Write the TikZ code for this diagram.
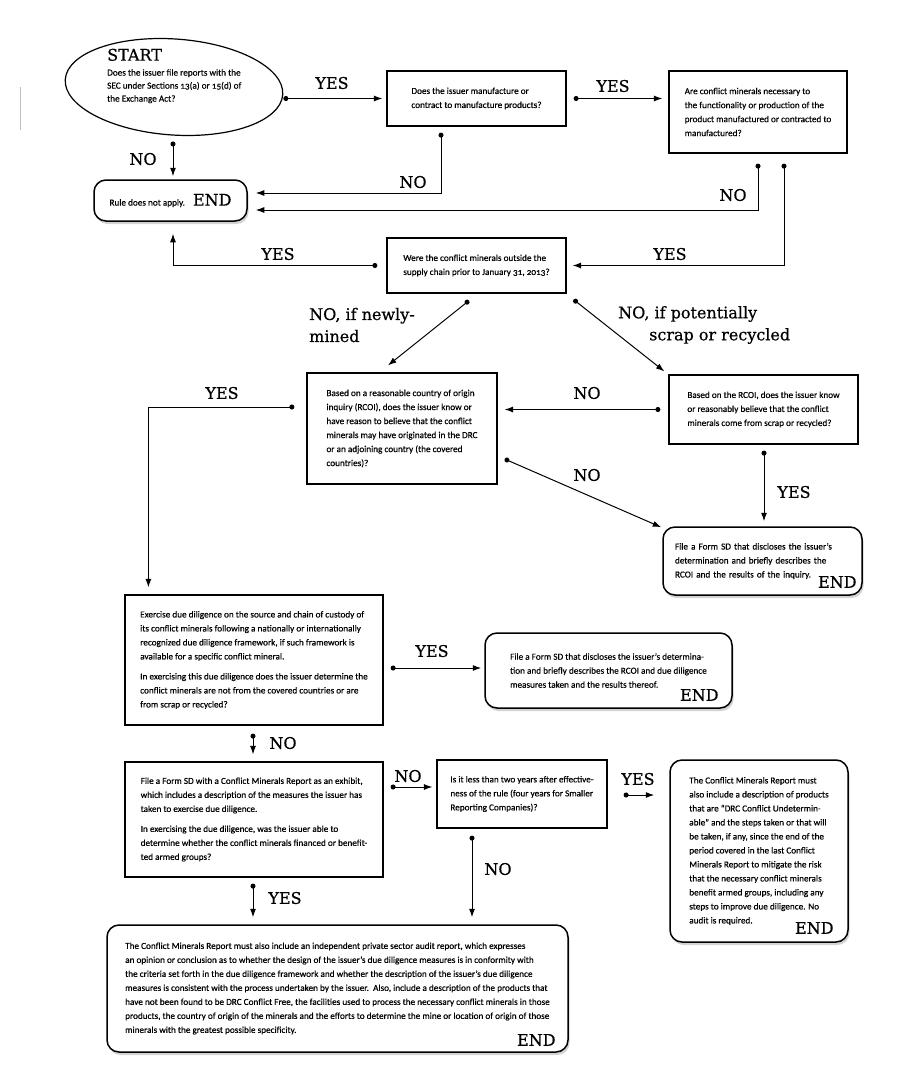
\documentclass[tikz,border=0pt]{standalone}
\usepackage{fontspec}
\setmainfont{Carlito}[Numbers=OldStyle, FakeBold=0.4]
\newfontfamily\slabfont{DejaVu Serif}[FakeBold=0.6]
\usetikzlibrary{calc,shapes.geometric,arrows.meta,shadows}

\newcommand{\bodytext}{\fontsize{9.2}{14}\selectfont}
\newcommand{\slab}{\slabfont\fontsize{16}{22}\selectfont}

\tikzset{
  qbox/.style={draw, line width=1.2pt, align=left, inner sep=0pt, font=\bodytext},
  endbox/.style={qbox, rounded corners=12pt, line width=1.5pt, fill=white,
    drop shadow={opacity=0.35, shadow xshift=1.5pt, shadow yshift=-3pt}},
  startshape/.style={draw, ellipse, line width=1.2pt, inner sep=0pt},
  answer/.style={font=\slab, inner sep=0pt, align=left},
  endword/.style={font=\slab, inner sep=0pt, anchor=base east},
  conn/.style={{Circle[length=5pt]}-{Latex[length=8.5pt,width=6pt]}, line width=1pt}
}

\begin{document}
\begin{tikzpicture}[x=1pt,y=-1pt]
    \useasboundingbox (0,0) rectangle (898,1092);
    \draw[black!25, line width=1pt] (20,87) -- (20,130);

    \node[startshape, minimum width=218pt, minimum height=96pt, rotate=-4] (start) at (174,87) {};
    \node[anchor=west, align=left, inner sep=0pt, font=\fontsize{9.2}{13}\selectfont] (starttxt) at (107,76)
        {{\slab START}\\[2pt]Does the issuer file reports with the\\SEC under Sections 13(a) or 15(d) of\\the Exchange Act?};

    \node[qbox, minimum width=179pt, minimum height=55pt] (q2) at (476.5,98.5)
        {Does the issuer manufacture or\\contract to manufacture products?};
    \node[qbox, minimum width=178pt, minimum height=82pt] (q3) at (758,112)
        {Are conflict minerals necessary to\\the functionality or production of the\\product manufactured or contracted to\\manufactured?};
    \node[endbox, minimum width=153pt, minimum height=41pt] (rule) at (170.5,200.5)
        {Rule does not apply.\hspace{8pt}{\slab END}};
    \node[qbox, minimum width=179pt, minimum height=55pt] (q4) at (476.5,265.5)
        {Were the conflict minerals outside the\\supply chain prior to January 31, 2013?};
    \node[qbox, minimum width=190pt, minimum height=111pt] (q5) at (402,428.5)
        {Based on a reasonable country of origin\\inquiry (RCOI), does the issuer know or\\have reason to believe that the conflict\\minerals may have originated in the DRC\\or an adjoining country (the covered\\countries)?};
    \node[qbox, minimum width=189pt, minimum height=69pt] (q6) at (763.5,409.5)
        {Based on the RCOI, does the issuer know\\or reasonably believe that the conflict\\minerals come from scrap or recycled?};
    \node[endbox, minimum width=199pt, minimum height=68pt, text width=175pt] (end2) at (762.5,561)
        {File a Form SD that discloses the issuer’s\\determination and briefly describes the\\RCOI and the results of the inquiry.};
    \node[endword] (end2end) at ($(end2.south east)+(-6,-8)$) {END};

    \node[qbox, minimum width=258pt, minimum height=130pt] (q7) at (254,660)
        {Exercise due diligence on the source and chain of custody of\\its conflict minerals following a nationally or internationally\\recognized due diligence framework, if such framework is\\available for a specific conflict mineral.\\[6pt]In exercising this due diligence does the issuer determine the\\conflict minerals are not from the covered countries or are\\from scrap or recycled?};
    \node[endbox, minimum width=247pt, minimum height=75pt] (end3) at (608.5,670.5)
        {File a Form SD that discloses the issuer’s determina-\\tion and briefly describes the RCOI and due diligence\\measures taken and the results thereof.};
    \node[endword] (end3end) at ($(end3.south east)+(-14,-8)$) {END};

    \node[qbox, minimum width=258pt, minimum height=115pt] (q10) at (254,819.5)
        {File a Form SD with a Conflict Minerals Report as an exhibit,\\which includes a description of the measures the issuer has\\taken to exercise due diligence.\\[6pt]In exercising the due diligence, was the issuer able to\\determine whether the conflict minerals financed or benefit-\\ted armed groups?};
    \node[qbox, minimum width=170pt, minimum height=68pt] (q11) at (522,794)
        {Is it less than two years after effective-\\ness of the rule (four years for Smaller\\Reporting Companies)?};
    \node[endbox, minimum width=178pt, minimum height=182pt] (end4) at (759,851)
        {The Conflict Minerals Report must\\also include a description of products\\that are “DRC Conflict Undetermin-\\able” and the steps taken or that will\\be taken, if any, since the end of the\\period covered in the last Conflict\\Minerals Report to mitigate the risk\\that the necessary conflict minerals\\benefit armed groups, including any\\steps to improve due diligence. No\\audit is required.};
    \node[endword] (end4end) at ($(end4.south east)+(-15,-9)$) {END};
    \node[endbox, minimum width=461pt, minimum height=127pt] (end5) at (337.5,988.5)
        {The Conflict Minerals Report must also include an independent private sector audit report, which expresses\\an opinion or conclusion as to whether the design of the issuer’s due diligence measures is in conformity with\\the criteria set forth in the due diligence framework and whether the description of the issuer’s due diligence\\measures is consistent with the process undertaken by the issuer.\ \ Also, include a description of the products that\\have not been found to be DRC Conflict Free, the facilities used to process the necessary conflict minerals in those\\products, the country of origin of the minerals and the efforts to determine the mine or location of origin of those\\minerals with the greatest possible specificity.};
    \node[endword] (end5end) at ($(end5.south east)+(-13,-7)$) {END};

    % answers
    \node[answer] (a1) at (332,83) {YES};
    \node[answer] (a2) at (613,86) {YES};
    \node[answer] (a3) at (143,159) {NO};
    \node[answer] (a4) at (413,182) {NO};
    \node[answer] (a5) at (733,195) {NO};
    \node[answer] (a6) at (670,254) {YES};
    \node[answer] (a7) at (278,254) {YES};
    \node[answer, anchor=west] (a8) at (309,325) {NO, if newly-\\mined};
    \node[answer, anchor=west] (a9) at (618,325) {NO, if potentially\\\hspace*{31pt}scrap or recycled};
    \node[answer] (a10) at (222,393) {YES};
    \node[answer] (a11) at (587,393) {NO};
    \node[answer] (a12) at (587,475) {NO};
    \node[answer] (a13) at (794,492) {YES};
    \node[answer] (a14) at (432,651) {YES};
    \node[answer] (a15) at (283,743) {NO};
    \node[answer] (a16) at (408,776) {NO};
    \node[answer] (a17) at (638,779) {YES};
    \node[answer] (a18) at (498,869) {NO};
    \node[answer] (a19) at (285,898) {YES};

    % connectors
    \draw[conn] (start.east |- q2.west) -- ($(q2.west)+(-4,0)$);
    \draw[conn] ($(q2.east)+(7,0)$) -- ($(q3.west |- q2.east)+(-6,0)$);
    \draw[conn] ($(rule.north |- start.south)+(2.5,6)$) -- ($(rule.north)+(2.5,-3)$);
    \draw[conn] ($(q2.south)+(-35.5,6)$) |- ($(rule.east)+(8,-7.5)$);
    \draw[conn] ($(q3.south)+(0,10)$) |- ($(rule.east)+(8,9.5)$);
    \draw[conn] ($(q3.south)+(26,10)$) |- ($(q4.east)+(6,0)$);
    \draw[conn] ($(q4.west)+(-9,0)$) -| ($(rule.south)+(2.5,12)$);
    \draw[conn] ($(q4.south)+(-7.5,7)$) -- ($(q5.north)+(-14,-7)$);
    \draw[conn] ($(q4.south east)+(7,6)$) -- ($(q6.north west)+(-4,-3)$);
    \draw[conn] ($(q6.west)+(-8,0)$) -- ($(q5.east |- q6.west)+(7,0)$);
    \draw[conn] ($(q5.east)+(7,30.5)$) -- ($(end2.north west)+(-1,1)$);
    \draw[conn] ($(q6.south)+(0.5,6)$) -- ($(q6.south |- end2.north)+(0.5,-5)$);
    \draw[conn] ($(q5.west)+(-12,-21.5)$) -| ($(q7.north west)+(24,-7)$);
    \draw[conn] ($(q7.east)+(7,8)$) -- ($(end3.west)+(-3,-2.5)$);
    \draw[conn] ($(q7.south)+(-1,8)$) -- ($(q10.north)+(-1,-7)$);
    \draw[conn] ($(q10.east)+(7,-32.5)$) -- ($(q11.west)+(-4,-7)$);
    \draw[conn] ($(q11.east)+(16,1)$) -- ($(end4.west |- q11.east)+(-15,1)$);
    \draw[conn] ($(q11.south)+(-50,7)$) -- ($(q11.south |- end5.north)+(-50,-7)$);
    \draw[conn] ($(q10.south)+(-1,6)$) -- ($(q10.south |- end5.north)+(-1,-7)$);
\end{tikzpicture}
\end{document}
